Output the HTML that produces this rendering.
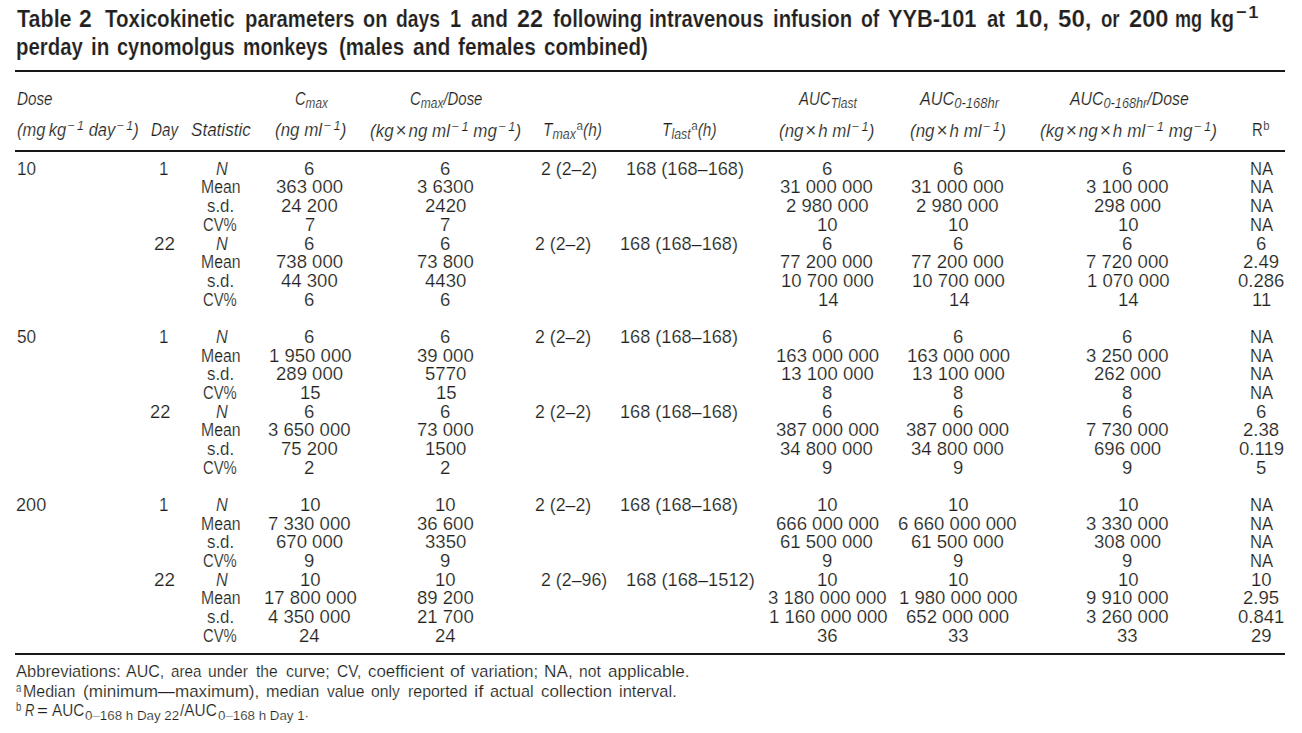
<!DOCTYPE html>
<html><head><meta charset="utf-8"><title>Table 2</title><style>
html,body{margin:0;padding:0;background:#fff;}
body{width:1302px;height:733px;position:relative;overflow:hidden;font-family:"Liberation Sans",sans-serif;color:#231f20;-webkit-text-stroke:0.18px #fff;}
.e{position:absolute;white-space:nowrap;line-height:24px;height:24px;transform-origin:0 0;}
.b{font-weight:bold;}
.i{font-style:italic;}
.sub{font-size:0.8em;position:relative;top:0.2em;}
.sup{font-size:0.76em;position:relative;top:-0.47em;font-style:normal;margin-left:0.12em;}
.sup i{font-style:italic;}
.hs{display:inline-block;width:0.18em;}
.supu{font-size:0.76em;position:relative;top:-0.47em;font-style:normal;margin-left:0.05em;}
.x{font-style:normal;font-size:1.12em;margin:0 0.1em;}
.tsup{font-size:0.72em;position:relative;top:-0.5em;}
.fsup{font-size:0.8em;position:relative;top:-0.36em;}
.fsub{font-size:0.76em;position:relative;top:0.28em;}
.rule{position:absolute;background:#1a1718;}
</style></head><body>
<div class="e b" style="left:16.50px;top:6.80px;font-size:23.5px;transform:scaleX(0.9153)">Table</div>
<div class="e b" style="left:79.10px;top:6.80px;font-size:23.5px;transform:scaleX(0.9769)">2</div>
<div class="e b" style="left:105.20px;top:6.80px;font-size:23.5px;transform:scaleX(0.8736)">Toxicokinetic</div>
<div class="e b" style="left:244.54px;top:6.80px;font-size:23.5px;transform:scaleX(0.8635)">parameters</div>
<div class="e b" style="left:362.60px;top:6.80px;font-size:23.5px;transform:scaleX(0.8500)">on</div>
<div class="e b" style="left:395.50px;top:6.80px;font-size:23.5px;transform:scaleX(0.8226)">days</div>
<div class="e b" style="left:449.65px;top:6.80px;font-size:23.5px;transform:scaleX(0.8500)">1</div>
<div class="e b" style="left:470.80px;top:6.80px;font-size:23.5px;transform:scaleX(0.8854)">and</div>
<div class="e b" style="left:517.20px;top:6.80px;font-size:23.5px;transform:scaleX(0.9962)">22</div>
<div class="e b" style="left:553.20px;top:6.80px;font-size:23.5px;transform:scaleX(0.8647)">following</div>
<div class="e b" style="left:649.24px;top:6.80px;font-size:23.5px;transform:scaleX(0.8606)">intravenous</div>
<div class="e b" style="left:772.93px;top:6.80px;font-size:23.5px;transform:scaleX(0.8656)">infusion</div>
<div class="e b" style="left:860.50px;top:6.80px;font-size:23.5px;transform:scaleX(0.8261)">of</div>
<div class="e b" style="left:888.40px;top:6.80px;font-size:23.5px;transform:scaleX(0.9274)">YYB-101</div>
<div class="e b" style="left:987.40px;top:6.80px;font-size:23.5px;transform:scaleX(0.8667)">at</div>
<div class="e b" style="left:1014.75px;top:6.80px;font-size:23.5px;transform:scaleX(1.0452)">10,</div>
<div class="e b" style="left:1057.60px;top:6.80px;font-size:23.5px;transform:scaleX(1.0281)">50,</div>
<div class="e b" style="left:1100.70px;top:6.80px;font-size:23.5px;transform:scaleX(0.7917)">or</div>
<div class="e b" style="left:1128.60px;top:6.80px;font-size:23.5px;transform:scaleX(1.0077)">200</div>
<div class="e b" style="left:1175.23px;top:6.80px;font-size:23.5px;transform:scaleX(0.7676)">mg</div>
<div class="e b" style="left:1210.12px;top:6.80px;font-size:23.5px;transform:scaleX(0.8769)">kg</div>
<div class="e b" style="left:1236.30px;top:6.80px;font-size:23.5px;transform:scaleX(1.0857)"><span class="tsup">−&#8202;1</span></div>
<div class="e b" style="left:15.63px;top:35.30px;font-size:23.5px;transform:scaleX(0.8671)">perday</div>
<div class="e b" style="left:90.92px;top:35.30px;font-size:23.5px;transform:scaleX(0.8789)">in</div>
<div class="e b" style="left:117.10px;top:35.30px;font-size:23.5px;transform:scaleX(0.8507)">cynomolgus</div>
<div class="e b" style="left:243.07px;top:35.30px;font-size:23.5px;transform:scaleX(0.8327)">monkeys</div>
<div class="e b" style="left:339.00px;top:35.30px;font-size:23.5px;transform:scaleX(0.8743)">(males</div>
<div class="e b" style="left:412.50px;top:35.30px;font-size:23.5px;transform:scaleX(0.8976)">and</div>
<div class="e b" style="left:458.20px;top:35.30px;font-size:23.5px;transform:scaleX(0.8885)">females</div>
<div class="e b" style="left:544.30px;top:35.30px;font-size:23.5px;transform:scaleX(0.8746)">combined)</div>
<div class="e i" style="left:16.80px;top:87.00px;font-size:17.5px;transform:scaleX(0.8707)">Dose</div>
<div class="e i" style="left:294.60px;top:87.00px;font-size:17.5px;transform:scaleX(0.8385)">C<span class="sub">max</span></div>
<div class="e i" style="left:409.80px;top:87.00px;font-size:17.5px;transform:scaleX(0.8541)">C<span class="sub">max</span>/Dose</div>
<div class="e i" style="left:799.26px;top:87.00px;font-size:17.5px;transform:scaleX(0.8580)">AUC<span class="sub">Tlast</span></div>
<div class="e i" style="left:919.63px;top:87.00px;font-size:17.5px;transform:scaleX(0.9276)">AUC<span class="sub">0-168hr</span></div>
<div class="e i" style="left:1069.61px;top:87.00px;font-size:17.5px;transform:scaleX(0.9076)">AUC<span class="sub">0-168hr</span>/Dose</div>
<div class="e i" style="left:16.80px;top:117.90px;font-size:17.5px;transform:scaleX(0.9411)">(mg&#8201;kg<span class="sup">−<span class="hs"></span><i>1</i></span> day<span class="sup">−<span class="hs"></span><i>1</i></span>)</div>
<div class="e i" style="left:151.40px;top:117.90px;font-size:17.5px;transform:scaleX(0.8719)">Day</div>
<div class="e i" style="left:191.20px;top:117.90px;font-size:17.5px;transform:scaleX(0.9754)">Statistic</div>
<div class="e i" style="left:275.00px;top:117.90px;font-size:17.5px;transform:scaleX(0.9685)">(ng ml<span class="sup">−<span class="hs"></span><i>1</i></span>)</div>
<div class="e i" style="left:370.10px;top:117.90px;font-size:17.5px;transform:scaleX(0.9705)">(kg<span class="x">&#215;</span>ng ml<span class="sup">−<span class="hs"></span><i>1</i></span> mg<span class="sup">−<span class="hs"></span><i>1</i></span>)</div>
<div class="e i" style="left:542.91px;top:117.90px;font-size:17.5px;transform:scaleX(0.8862)">T<span class="sub">max</span><span class="supu">a</span>(h)</div>
<div class="e i" style="left:661.62px;top:117.90px;font-size:17.5px;transform:scaleX(0.8803)">T<span class="sub">last</span><span class="supu">a</span>(h)</div>
<div class="e i" style="left:779.30px;top:117.90px;font-size:17.5px;transform:scaleX(0.9657)">(ng<span class="x">&#215;</span>h ml<span class="sup">−<span class="hs"></span><i>1</i></span>)</div>
<div class="e i" style="left:910.20px;top:117.90px;font-size:17.5px;transform:scaleX(0.9707)">(ng<span class="x">&#215;</span>h ml<span class="sup">−<span class="hs"></span><i>1</i></span>)</div>
<div class="e i" style="left:1039.60px;top:117.90px;font-size:17.5px;transform:scaleX(0.9779)">(kg<span class="x">&#215;</span>ng<span class="x">&#215;</span>h ml<span class="sup">−<span class="hs"></span><i>1</i></span> mg<span class="sup">−<span class="hs"></span><i>1</i></span>)</div>
<div class="e r" style="left:1252.15px;top:117.90px;font-size:17.5px;transform:scaleX(0.8500)">R<span class="supu">b</span></div>
<div class="e r" style="left:16.52px;top:156.80px;font-size:17.5px;transform:scaleX(0.9789)">10</div>
<div class="e r" style="left:158.74px;top:156.80px;font-size:17.5px;transform:scaleX(0.9625)">1</div>
<div class="e r" style="left:153.90px;top:231.52px;font-size:17.5px;transform:scaleX(1.0789)">22</div>
<div class="e r" style="left:216.10px;top:156.80px;font-size:17.5px;transform:scaleX(0.9308)"><i>N</i></div>
<div class="e r" style="left:200.60px;top:175.48px;font-size:17.5px;transform:scaleX(0.9023)">Mean</div>
<div class="e r" style="left:206.90px;top:194.16px;font-size:17.5px;transform:scaleX(0.9630)">s.d.</div>
<div class="e r" style="left:203.10px;top:212.84px;font-size:17.5px;transform:scaleX(0.8475)">CV%</div>
<div class="e r" style="left:304.20px;top:156.80px;font-size:17.5px;transform:scaleX(1.0600)">6</div>
<div class="e r" style="left:276.11px;top:175.48px;font-size:17.5px;transform:scaleX(1.0600)">363&nbsp;000</div>
<div class="e r" style="left:280.88px;top:194.16px;font-size:17.5px;transform:scaleX(1.0600)">24&nbsp;200</div>
<div class="e r" style="left:304.73px;top:212.84px;font-size:17.5px;transform:scaleX(1.0600)">7</div>
<div class="e r" style="left:439.90px;top:156.80px;font-size:17.5px;transform:scaleX(1.0600)">6</div>
<div class="e r" style="left:416.58px;top:175.48px;font-size:17.5px;transform:scaleX(1.0600)">3&nbsp;6300</div>
<div class="e r" style="left:424.53px;top:194.16px;font-size:17.5px;transform:scaleX(1.0600)">2420</div>
<div class="e r" style="left:440.43px;top:212.84px;font-size:17.5px;transform:scaleX(1.0600)">7</div>
<div class="e r" style="left:821.70px;top:156.80px;font-size:17.5px;transform:scaleX(1.0600)">6</div>
<div class="e r" style="left:780.36px;top:175.48px;font-size:17.5px;transform:scaleX(1.0600)">31&nbsp;000&nbsp;000</div>
<div class="e r" style="left:785.66px;top:194.16px;font-size:17.5px;transform:scaleX(1.0600)">2&nbsp;980&nbsp;000</div>
<div class="e r" style="left:817.27px;top:212.84px;font-size:17.5px;transform:scaleX(1.0600)">10</div>
<div class="e r" style="left:952.50px;top:156.80px;font-size:17.5px;transform:scaleX(1.0600)">6</div>
<div class="e r" style="left:911.16px;top:175.48px;font-size:17.5px;transform:scaleX(1.0600)">31&nbsp;000&nbsp;000</div>
<div class="e r" style="left:916.46px;top:194.16px;font-size:17.5px;transform:scaleX(1.0600)">2&nbsp;980&nbsp;000</div>
<div class="e r" style="left:948.07px;top:212.84px;font-size:17.5px;transform:scaleX(1.0600)">10</div>
<div class="e r" style="left:1122.20px;top:156.80px;font-size:17.5px;transform:scaleX(1.0600)">6</div>
<div class="e r" style="left:1086.16px;top:175.48px;font-size:17.5px;transform:scaleX(1.0600)">3&nbsp;100&nbsp;000</div>
<div class="e r" style="left:1094.11px;top:194.16px;font-size:17.5px;transform:scaleX(1.0600)">298&nbsp;000</div>
<div class="e r" style="left:1117.77px;top:212.84px;font-size:17.5px;transform:scaleX(1.0600)">10</div>
<div class="e r" style="left:1249.65px;top:156.80px;font-size:17.5px;transform:scaleX(0.9500)">NA</div>
<div class="e r" style="left:1249.65px;top:175.48px;font-size:17.5px;transform:scaleX(0.9500)">NA</div>
<div class="e r" style="left:1249.65px;top:194.16px;font-size:17.5px;transform:scaleX(0.9500)">NA</div>
<div class="e r" style="left:1249.65px;top:212.84px;font-size:17.5px;transform:scaleX(0.9500)">NA</div>
<div class="e r" style="left:540.70px;top:156.80px;font-size:17.5px;transform:scaleX(1.0127)">2&nbsp;(2–2)</div>
<div class="e r" style="left:626.46px;top:156.80px;font-size:17.5px;transform:scaleX(1.0363)">168&nbsp;(168–168)</div>
<div class="e r" style="left:216.10px;top:231.52px;font-size:17.5px;transform:scaleX(0.9308)"><i>N</i></div>
<div class="e r" style="left:200.60px;top:250.20px;font-size:17.5px;transform:scaleX(0.9023)">Mean</div>
<div class="e r" style="left:206.90px;top:268.88px;font-size:17.5px;transform:scaleX(0.9630)">s.d.</div>
<div class="e r" style="left:203.10px;top:287.56px;font-size:17.5px;transform:scaleX(0.8475)">CV%</div>
<div class="e r" style="left:304.20px;top:231.52px;font-size:17.5px;transform:scaleX(1.0600)">6</div>
<div class="e r" style="left:276.11px;top:250.20px;font-size:17.5px;transform:scaleX(1.0600)">738&nbsp;000</div>
<div class="e r" style="left:280.88px;top:268.88px;font-size:17.5px;transform:scaleX(1.0600)">44&nbsp;300</div>
<div class="e r" style="left:304.20px;top:287.56px;font-size:17.5px;transform:scaleX(1.0600)">6</div>
<div class="e r" style="left:439.90px;top:231.52px;font-size:17.5px;transform:scaleX(1.0600)">6</div>
<div class="e r" style="left:416.58px;top:250.20px;font-size:17.5px;transform:scaleX(1.0600)">73&nbsp;800</div>
<div class="e r" style="left:424.53px;top:268.88px;font-size:17.5px;transform:scaleX(1.0600)">4430</div>
<div class="e r" style="left:439.90px;top:287.56px;font-size:17.5px;transform:scaleX(1.0600)">6</div>
<div class="e r" style="left:821.70px;top:231.52px;font-size:17.5px;transform:scaleX(1.0600)">6</div>
<div class="e r" style="left:780.36px;top:250.20px;font-size:17.5px;transform:scaleX(1.0600)">77&nbsp;200&nbsp;000</div>
<div class="e r" style="left:781.23px;top:268.88px;font-size:17.5px;transform:scaleX(1.0600)">10&nbsp;700&nbsp;000</div>
<div class="e r" style="left:817.80px;top:287.56px;font-size:17.5px;transform:scaleX(1.0600)">14</div>
<div class="e r" style="left:952.50px;top:231.52px;font-size:17.5px;transform:scaleX(1.0600)">6</div>
<div class="e r" style="left:911.16px;top:250.20px;font-size:17.5px;transform:scaleX(1.0600)">77&nbsp;200&nbsp;000</div>
<div class="e r" style="left:912.03px;top:268.88px;font-size:17.5px;transform:scaleX(1.0600)">10&nbsp;700&nbsp;000</div>
<div class="e r" style="left:948.60px;top:287.56px;font-size:17.5px;transform:scaleX(1.0600)">14</div>
<div class="e r" style="left:1122.20px;top:231.52px;font-size:17.5px;transform:scaleX(1.0600)">6</div>
<div class="e r" style="left:1086.16px;top:250.20px;font-size:17.5px;transform:scaleX(1.0600)">7&nbsp;720&nbsp;000</div>
<div class="e r" style="left:1087.03px;top:268.88px;font-size:17.5px;transform:scaleX(1.0600)">1&nbsp;070&nbsp;000</div>
<div class="e r" style="left:1118.30px;top:287.56px;font-size:17.5px;transform:scaleX(1.0600)">14</div>
<div class="e r" style="left:1255.70px;top:231.52px;font-size:17.5px;transform:scaleX(1.0600)">6</div>
<div class="e r" style="left:1242.98px;top:250.20px;font-size:17.5px;transform:scaleX(1.0600)">2.49</div>
<div class="e r" style="left:1237.68px;top:268.88px;font-size:17.5px;transform:scaleX(1.0600)">0.286</div>
<div class="e r" style="left:1252.33px;top:287.56px;font-size:17.5px;transform:scaleX(1.0600)">11</div>
<div class="e r" style="left:535.00px;top:231.52px;font-size:17.5px;transform:scaleX(1.0127)">2&nbsp;(2–2)</div>
<div class="e r" style="left:620.16px;top:231.52px;font-size:17.5px;transform:scaleX(1.0363)">168&nbsp;(168–168)</div>
<div class="e r" style="left:16.50px;top:324.92px;font-size:17.5px;transform:scaleX(0.9800)">50</div>
<div class="e r" style="left:158.74px;top:324.92px;font-size:17.5px;transform:scaleX(0.9625)">1</div>
<div class="e r" style="left:150.40px;top:399.64px;font-size:17.5px;transform:scaleX(1.0421)">22</div>
<div class="e r" style="left:216.10px;top:324.92px;font-size:17.5px;transform:scaleX(0.9308)"><i>N</i></div>
<div class="e r" style="left:200.60px;top:343.60px;font-size:17.5px;transform:scaleX(0.9023)">Mean</div>
<div class="e r" style="left:206.90px;top:362.28px;font-size:17.5px;transform:scaleX(0.9630)">s.d.</div>
<div class="e r" style="left:203.10px;top:380.96px;font-size:17.5px;transform:scaleX(0.8475)">CV%</div>
<div class="e r" style="left:304.20px;top:324.92px;font-size:17.5px;transform:scaleX(1.0600)">6</div>
<div class="e r" style="left:269.03px;top:343.60px;font-size:17.5px;transform:scaleX(1.0600)">1&nbsp;950&nbsp;000</div>
<div class="e r" style="left:276.11px;top:362.28px;font-size:17.5px;transform:scaleX(1.0600)">289&nbsp;000</div>
<div class="e r" style="left:300.30px;top:380.96px;font-size:17.5px;transform:scaleX(1.0600)">15</div>
<div class="e r" style="left:439.90px;top:324.92px;font-size:17.5px;transform:scaleX(1.0600)">6</div>
<div class="e r" style="left:416.58px;top:343.60px;font-size:17.5px;transform:scaleX(1.0600)">39&nbsp;000</div>
<div class="e r" style="left:424.53px;top:362.28px;font-size:17.5px;transform:scaleX(1.0600)">5770</div>
<div class="e r" style="left:436.00px;top:380.96px;font-size:17.5px;transform:scaleX(1.0600)">15</div>
<div class="e r" style="left:821.70px;top:324.92px;font-size:17.5px;transform:scaleX(1.0600)">6</div>
<div class="e r" style="left:776.46px;top:343.60px;font-size:17.5px;transform:scaleX(1.0600)">163&nbsp;000&nbsp;000</div>
<div class="e r" style="left:781.23px;top:362.28px;font-size:17.5px;transform:scaleX(1.0600)">13&nbsp;100&nbsp;000</div>
<div class="e r" style="left:821.70px;top:380.96px;font-size:17.5px;transform:scaleX(1.0600)">8</div>
<div class="e r" style="left:952.50px;top:324.92px;font-size:17.5px;transform:scaleX(1.0600)">6</div>
<div class="e r" style="left:907.26px;top:343.60px;font-size:17.5px;transform:scaleX(1.0600)">163&nbsp;000&nbsp;000</div>
<div class="e r" style="left:912.03px;top:362.28px;font-size:17.5px;transform:scaleX(1.0600)">13&nbsp;100&nbsp;000</div>
<div class="e r" style="left:952.50px;top:380.96px;font-size:17.5px;transform:scaleX(1.0600)">8</div>
<div class="e r" style="left:1122.20px;top:324.92px;font-size:17.5px;transform:scaleX(1.0600)">6</div>
<div class="e r" style="left:1086.16px;top:343.60px;font-size:17.5px;transform:scaleX(1.0600)">3&nbsp;250&nbsp;000</div>
<div class="e r" style="left:1094.11px;top:362.28px;font-size:17.5px;transform:scaleX(1.0600)">262&nbsp;000</div>
<div class="e r" style="left:1122.20px;top:380.96px;font-size:17.5px;transform:scaleX(1.0600)">8</div>
<div class="e r" style="left:1249.65px;top:324.92px;font-size:17.5px;transform:scaleX(0.9500)">NA</div>
<div class="e r" style="left:1249.65px;top:343.60px;font-size:17.5px;transform:scaleX(0.9500)">NA</div>
<div class="e r" style="left:1249.65px;top:362.28px;font-size:17.5px;transform:scaleX(0.9500)">NA</div>
<div class="e r" style="left:1249.65px;top:380.96px;font-size:17.5px;transform:scaleX(0.9500)">NA</div>
<div class="e r" style="left:535.00px;top:324.92px;font-size:17.5px;transform:scaleX(1.0127)">2&nbsp;(2–2)</div>
<div class="e r" style="left:620.16px;top:324.92px;font-size:17.5px;transform:scaleX(1.0363)">168&nbsp;(168–168)</div>
<div class="e r" style="left:216.10px;top:399.64px;font-size:17.5px;transform:scaleX(0.9308)"><i>N</i></div>
<div class="e r" style="left:200.60px;top:418.32px;font-size:17.5px;transform:scaleX(0.9023)">Mean</div>
<div class="e r" style="left:206.90px;top:437.00px;font-size:17.5px;transform:scaleX(0.9630)">s.d.</div>
<div class="e r" style="left:203.10px;top:455.68px;font-size:17.5px;transform:scaleX(0.8475)">CV%</div>
<div class="e r" style="left:304.20px;top:399.64px;font-size:17.5px;transform:scaleX(1.0600)">6</div>
<div class="e r" style="left:268.16px;top:418.32px;font-size:17.5px;transform:scaleX(1.0600)">3&nbsp;650&nbsp;000</div>
<div class="e r" style="left:280.88px;top:437.00px;font-size:17.5px;transform:scaleX(1.0600)">75&nbsp;200</div>
<div class="e r" style="left:304.20px;top:455.68px;font-size:17.5px;transform:scaleX(1.0600)">2</div>
<div class="e r" style="left:439.90px;top:399.64px;font-size:17.5px;transform:scaleX(1.0600)">6</div>
<div class="e r" style="left:416.58px;top:418.32px;font-size:17.5px;transform:scaleX(1.0600)">73&nbsp;000</div>
<div class="e r" style="left:425.40px;top:437.00px;font-size:17.5px;transform:scaleX(1.0600)">1500</div>
<div class="e r" style="left:439.90px;top:455.68px;font-size:17.5px;transform:scaleX(1.0600)">2</div>
<div class="e r" style="left:821.70px;top:399.64px;font-size:17.5px;transform:scaleX(1.0600)">6</div>
<div class="e r" style="left:775.59px;top:418.32px;font-size:17.5px;transform:scaleX(1.0600)">387&nbsp;000&nbsp;000</div>
<div class="e r" style="left:780.36px;top:437.00px;font-size:17.5px;transform:scaleX(1.0600)">34&nbsp;800&nbsp;000</div>
<div class="e r" style="left:821.70px;top:455.68px;font-size:17.5px;transform:scaleX(1.0600)">9</div>
<div class="e r" style="left:952.50px;top:399.64px;font-size:17.5px;transform:scaleX(1.0600)">6</div>
<div class="e r" style="left:906.39px;top:418.32px;font-size:17.5px;transform:scaleX(1.0600)">387&nbsp;000&nbsp;000</div>
<div class="e r" style="left:911.16px;top:437.00px;font-size:17.5px;transform:scaleX(1.0600)">34&nbsp;800&nbsp;000</div>
<div class="e r" style="left:952.50px;top:455.68px;font-size:17.5px;transform:scaleX(1.0600)">9</div>
<div class="e r" style="left:1122.20px;top:399.64px;font-size:17.5px;transform:scaleX(1.0600)">6</div>
<div class="e r" style="left:1086.16px;top:418.32px;font-size:17.5px;transform:scaleX(1.0600)">7&nbsp;730&nbsp;000</div>
<div class="e r" style="left:1094.11px;top:437.00px;font-size:17.5px;transform:scaleX(1.0600)">696&nbsp;000</div>
<div class="e r" style="left:1122.20px;top:455.68px;font-size:17.5px;transform:scaleX(1.0600)">9</div>
<div class="e r" style="left:1255.70px;top:399.64px;font-size:17.5px;transform:scaleX(1.0600)">6</div>
<div class="e r" style="left:1242.98px;top:418.32px;font-size:17.5px;transform:scaleX(1.0600)">2.38</div>
<div class="e r" style="left:1238.74px;top:437.00px;font-size:17.5px;transform:scaleX(1.0600)">0.119</div>
<div class="e r" style="left:1255.70px;top:455.68px;font-size:17.5px;transform:scaleX(1.0600)">5</div>
<div class="e r" style="left:535.00px;top:399.64px;font-size:17.5px;transform:scaleX(1.0127)">2&nbsp;(2–2)</div>
<div class="e r" style="left:620.16px;top:399.64px;font-size:17.5px;transform:scaleX(1.0363)">168&nbsp;(168–168)</div>
<div class="e r" style="left:16.10px;top:493.04px;font-size:17.5px;transform:scaleX(1.0345)">200</div>
<div class="e r" style="left:158.74px;top:493.04px;font-size:17.5px;transform:scaleX(0.9625)">1</div>
<div class="e r" style="left:153.90px;top:567.76px;font-size:17.5px;transform:scaleX(1.0789)">22</div>
<div class="e r" style="left:216.10px;top:493.04px;font-size:17.5px;transform:scaleX(0.9308)"><i>N</i></div>
<div class="e r" style="left:200.60px;top:511.72px;font-size:17.5px;transform:scaleX(0.9023)">Mean</div>
<div class="e r" style="left:206.90px;top:530.40px;font-size:17.5px;transform:scaleX(0.9630)">s.d.</div>
<div class="e r" style="left:203.10px;top:549.08px;font-size:17.5px;transform:scaleX(0.8475)">CV%</div>
<div class="e r" style="left:299.77px;top:493.04px;font-size:17.5px;transform:scaleX(1.0600)">10</div>
<div class="e r" style="left:268.16px;top:511.72px;font-size:17.5px;transform:scaleX(1.0600)">7&nbsp;330&nbsp;000</div>
<div class="e r" style="left:276.11px;top:530.40px;font-size:17.5px;transform:scaleX(1.0600)">670&nbsp;000</div>
<div class="e r" style="left:304.20px;top:549.08px;font-size:17.5px;transform:scaleX(1.0600)">9</div>
<div class="e r" style="left:435.47px;top:493.04px;font-size:17.5px;transform:scaleX(1.0600)">10</div>
<div class="e r" style="left:416.58px;top:511.72px;font-size:17.5px;transform:scaleX(1.0600)">36&nbsp;600</div>
<div class="e r" style="left:424.53px;top:530.40px;font-size:17.5px;transform:scaleX(1.0600)">3350</div>
<div class="e r" style="left:439.90px;top:549.08px;font-size:17.5px;transform:scaleX(1.0600)">9</div>
<div class="e r" style="left:817.27px;top:493.04px;font-size:17.5px;transform:scaleX(1.0600)">10</div>
<div class="e r" style="left:775.59px;top:511.72px;font-size:17.5px;transform:scaleX(1.0600)">666&nbsp;000&nbsp;000</div>
<div class="e r" style="left:780.36px;top:530.40px;font-size:17.5px;transform:scaleX(1.0600)">61&nbsp;500&nbsp;000</div>
<div class="e r" style="left:821.70px;top:549.08px;font-size:17.5px;transform:scaleX(1.0600)">9</div>
<div class="e r" style="left:948.07px;top:493.04px;font-size:17.5px;transform:scaleX(1.0600)">10</div>
<div class="e r" style="left:898.44px;top:511.72px;font-size:17.5px;transform:scaleX(1.0600)">6&nbsp;660&nbsp;000&nbsp;000</div>
<div class="e r" style="left:911.16px;top:530.40px;font-size:17.5px;transform:scaleX(1.0600)">61&nbsp;500&nbsp;000</div>
<div class="e r" style="left:952.50px;top:549.08px;font-size:17.5px;transform:scaleX(1.0600)">9</div>
<div class="e r" style="left:1117.77px;top:493.04px;font-size:17.5px;transform:scaleX(1.0600)">10</div>
<div class="e r" style="left:1086.16px;top:511.72px;font-size:17.5px;transform:scaleX(1.0600)">3&nbsp;330&nbsp;000</div>
<div class="e r" style="left:1094.11px;top:530.40px;font-size:17.5px;transform:scaleX(1.0600)">308&nbsp;000</div>
<div class="e r" style="left:1122.20px;top:549.08px;font-size:17.5px;transform:scaleX(1.0600)">9</div>
<div class="e r" style="left:1249.65px;top:493.04px;font-size:17.5px;transform:scaleX(0.9500)">NA</div>
<div class="e r" style="left:1249.65px;top:511.72px;font-size:17.5px;transform:scaleX(0.9500)">NA</div>
<div class="e r" style="left:1249.65px;top:530.40px;font-size:17.5px;transform:scaleX(0.9500)">NA</div>
<div class="e r" style="left:1249.65px;top:549.08px;font-size:17.5px;transform:scaleX(0.9500)">NA</div>
<div class="e r" style="left:535.00px;top:493.04px;font-size:17.5px;transform:scaleX(1.0127)">2&nbsp;(2–2)</div>
<div class="e r" style="left:620.16px;top:493.04px;font-size:17.5px;transform:scaleX(1.0363)">168&nbsp;(168–168)</div>
<div class="e r" style="left:216.10px;top:567.76px;font-size:17.5px;transform:scaleX(0.9308)"><i>N</i></div>
<div class="e r" style="left:200.60px;top:586.44px;font-size:17.5px;transform:scaleX(0.9023)">Mean</div>
<div class="e r" style="left:206.90px;top:605.12px;font-size:17.5px;transform:scaleX(0.9630)">s.d.</div>
<div class="e r" style="left:203.10px;top:623.80px;font-size:17.5px;transform:scaleX(0.8475)">CV%</div>
<div class="e r" style="left:299.77px;top:567.76px;font-size:17.5px;transform:scaleX(1.0600)">10</div>
<div class="e r" style="left:263.73px;top:586.44px;font-size:17.5px;transform:scaleX(1.0600)">17&nbsp;800&nbsp;000</div>
<div class="e r" style="left:268.16px;top:605.12px;font-size:17.5px;transform:scaleX(1.0600)">4&nbsp;350&nbsp;000</div>
<div class="e r" style="left:299.43px;top:623.80px;font-size:17.5px;transform:scaleX(1.0600)">24</div>
<div class="e r" style="left:435.47px;top:567.76px;font-size:17.5px;transform:scaleX(1.0600)">10</div>
<div class="e r" style="left:416.58px;top:586.44px;font-size:17.5px;transform:scaleX(1.0600)">89&nbsp;200</div>
<div class="e r" style="left:416.58px;top:605.12px;font-size:17.5px;transform:scaleX(1.0600)">21&nbsp;700</div>
<div class="e r" style="left:435.13px;top:623.80px;font-size:17.5px;transform:scaleX(1.0600)">24</div>
<div class="e r" style="left:817.27px;top:567.76px;font-size:17.5px;transform:scaleX(1.0600)">10</div>
<div class="e r" style="left:767.64px;top:586.44px;font-size:17.5px;transform:scaleX(1.0600)">3&nbsp;180&nbsp;000&nbsp;000</div>
<div class="e r" style="left:768.51px;top:605.12px;font-size:17.5px;transform:scaleX(1.0600)">1&nbsp;160&nbsp;000&nbsp;000</div>
<div class="e r" style="left:816.93px;top:623.80px;font-size:17.5px;transform:scaleX(1.0600)">36</div>
<div class="e r" style="left:948.07px;top:567.76px;font-size:17.5px;transform:scaleX(1.0600)">10</div>
<div class="e r" style="left:899.31px;top:586.44px;font-size:17.5px;transform:scaleX(1.0600)">1&nbsp;980&nbsp;000&nbsp;000</div>
<div class="e r" style="left:906.39px;top:605.12px;font-size:17.5px;transform:scaleX(1.0600)">652&nbsp;000&nbsp;000</div>
<div class="e r" style="left:947.73px;top:623.80px;font-size:17.5px;transform:scaleX(1.0600)">33</div>
<div class="e r" style="left:1117.77px;top:567.76px;font-size:17.5px;transform:scaleX(1.0600)">10</div>
<div class="e r" style="left:1086.16px;top:586.44px;font-size:17.5px;transform:scaleX(1.0600)">9&nbsp;910&nbsp;000</div>
<div class="e r" style="left:1086.16px;top:605.12px;font-size:17.5px;transform:scaleX(1.0600)">3&nbsp;260&nbsp;000</div>
<div class="e r" style="left:1117.43px;top:623.80px;font-size:17.5px;transform:scaleX(1.0600)">33</div>
<div class="e r" style="left:1251.27px;top:567.76px;font-size:17.5px;transform:scaleX(1.0600)">10</div>
<div class="e r" style="left:1242.98px;top:586.44px;font-size:17.5px;transform:scaleX(1.0600)">2.95</div>
<div class="e r" style="left:1238.21px;top:605.12px;font-size:17.5px;transform:scaleX(1.0600)">0.841</div>
<div class="e r" style="left:1250.93px;top:623.80px;font-size:17.5px;transform:scaleX(1.0600)">29</div>
<div class="e r" style="left:540.70px;top:567.76px;font-size:17.5px;transform:scaleX(1.0169)">2&nbsp;(2–96)</div>
<div class="e r" style="left:626.46px;top:567.76px;font-size:17.5px;transform:scaleX(1.0418)">168&nbsp;(168–1512)</div>
<div class="e r" style="left:15.70px;top:659.80px;font-size:17.0px;transform:scaleX(0.9729)">Abbreviations:</div>
<div class="e r" style="left:126.30px;top:659.80px;font-size:17.0px;transform:scaleX(0.9425)">AUC,</div>
<div class="e r" style="left:170.50px;top:659.80px;font-size:17.0px;transform:scaleX(0.8941)">area</div>
<div class="e r" style="left:208.40px;top:659.80px;font-size:17.0px;transform:scaleX(0.9182)">under</div>
<div class="e r" style="left:256.30px;top:659.80px;font-size:17.0px;transform:scaleX(0.9167)">the</div>
<div class="e r" style="left:285.90px;top:659.80px;font-size:17.0px;transform:scaleX(0.9457)">curve;</div>
<div class="e r" style="left:336.90px;top:659.80px;font-size:17.0px;transform:scaleX(0.9077)">CV,</div>
<div class="e r" style="left:368.00px;top:659.80px;font-size:17.0px;transform:scaleX(0.9948)">coefficient</div>
<div class="e r" style="left:450.40px;top:659.80px;font-size:17.0px;transform:scaleX(1.0400)">of</div>
<div class="e r" style="left:471.20px;top:659.80px;font-size:17.0px;transform:scaleX(0.9735)">variation;</div>
<div class="e r" style="left:544.19px;top:659.80px;font-size:17.0px;transform:scaleX(1.0115)">NA,</div>
<div class="e r" style="left:578.90px;top:659.80px;font-size:17.0px;transform:scaleX(0.9208)">not</div>
<div class="e r" style="left:608.40px;top:659.80px;font-size:17.0px;transform:scaleX(1.0025)">applicable.</div>
<div class="e r" style="left:16.20px;top:679.60px;font-size:17.0px;transform:scaleX(0.7000)"><span class="fsup">a</span></div>
<div class="e r" style="left:23.06px;top:679.60px;font-size:17.0px;transform:scaleX(0.9382)">Median</div>
<div class="e r" style="left:83.00px;top:679.60px;font-size:17.0px;transform:scaleX(1.0034)">(minimum—maximum),</div>
<div class="e r" style="left:266.00px;top:679.60px;font-size:17.0px;transform:scaleX(0.9536)">median</div>
<div class="e r" style="left:326.80px;top:679.60px;font-size:17.0px;transform:scaleX(0.9220)">value</div>
<div class="e r" style="left:371.00px;top:679.60px;font-size:17.0px;transform:scaleX(0.9219)">only</div>
<div class="e r" style="left:407.90px;top:679.60px;font-size:17.0px;transform:scaleX(0.9365)">reported</div>
<div class="e r" style="left:473.80px;top:679.60px;font-size:17.0px;transform:scaleX(1.1333)">if</div>
<div class="e r" style="left:490.40px;top:679.60px;font-size:17.0px;transform:scaleX(0.9622)">actual</div>
<div class="e r" style="left:541.10px;top:679.60px;font-size:17.0px;transform:scaleX(1.0000)">collection</div>
<div class="e r" style="left:619.40px;top:679.60px;font-size:17.0px;transform:scaleX(0.9695)">interval.</div>
<div class="e r" style="left:16.20px;top:699.00px;font-size:17.0px;transform:scaleX(0.7000)"><span class="fsup">b</span></div>
<div class="e r" style="left:24.90px;top:699.00px;font-size:17.0px;transform:scaleX(0.7667)"><i>R</i></div>
<div class="e r" style="left:36.90px;top:699.00px;font-size:17.0px;transform:scaleX(1.1000)">=</div>
<div class="e r" style="left:51.60px;top:699.00px;font-size:17.0px;transform:scaleX(0.8972)">AUC</div>
<div class="e r" style="left:84.80px;top:699.00px;font-size:17.0px;transform:scaleX(1.0330)"><span class="fsub">0–168 h Day 22</span></div>
<div class="e r" style="left:179.70px;top:699.00px;font-size:17.0px;transform:scaleX(0.9050)">/AUC</div>
<div class="e r" style="left:217.80px;top:699.00px;font-size:17.0px;transform:scaleX(1.0310)"><span class="fsub">0–168 h Day 1·</span></div>
<div class="rule" style="left:15.4px;top:70px;width:1269.8px;height:2px"></div>
<div class="rule" style="left:15.4px;top:150px;width:1269.8px;height:2px"></div>
<div class="rule" style="left:15.4px;top:653px;width:1269.8px;height:2px"></div>
</body></html>
